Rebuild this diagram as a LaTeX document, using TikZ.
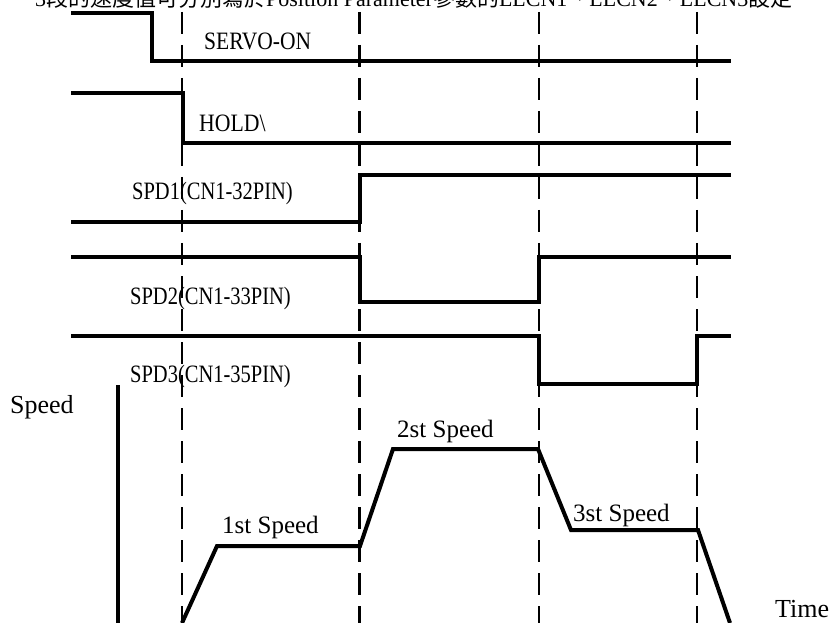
\documentclass[tikz,border=0pt]{standalone}
\usepackage{fontspec}
\setmainfont{Liberation Serif}
\newfontfamily\cjk{Noto Sans CJK TC}
\begin{document}
\begin{tikzpicture}[x=1pt,y=-1pt,
  sig/.style={line width=4pt, line join=miter, line cap=butt},
  guide/.style={line width=2pt, dash pattern=on 22pt off 11pt},
  axisline/.style={line width=4pt},
  lbl/.style={anchor=base west, inner sep=0pt, font=\fontsize{25}{25}\selectfont},
  spd/.style={anchor=base west, inner sep=0pt, font=\fontsize{25}{25}\selectfont},
  big/.style={anchor=base west, inner sep=0pt, font=\fontsize{26}{26}\selectfont},
  toptext/.style={anchor=base west, inner sep=0pt, font=\fontsize{22}{22}\selectfont},
  ]
\useasboundingbox (0,0) rectangle (831,623);

% clipped heading
\node[toptext] (head) at (35,6.5) {3{\cjk 段的速度值可分別寫於}Position Parameter{\cjk 參數的}LLCN1{\cjk 、}LLCN2{\cjk 、}LLCN3{\cjk 設定}};

% guides
\draw[guide] (182,12) -- (182,623);
\draw[guide, line width=3pt] (359,12) -- (359,623);
\draw[guide] (539,12) -- (539,623);
\draw[guide] (697,12) -- (697,623);

% SERVO-ON
\draw[sig] (71,13) -- (152,13) -- (152,61) -- (731,61);
\node[lbl] (servo) at (204,50) {\scalebox{0.86}[1]{SERVO-ON}};

% HOLD
\draw[sig] (71,93) -- (183,93) -- (183,143) -- (731,143);
\node[lbl] (hold) at (199,132) {\scalebox{0.87}[1]{HOLD\textbackslash}};

% SPD1
\draw[sig] (71,222) -- (360,222) -- (360,175) -- (731,175);
\node[lbl] (spd1) at (132,200) {\scalebox{0.82}[1]{SPD1(CN1-32PIN)}};

% SPD2
\draw[sig] (71,257) -- (360,257) -- (360,302) -- (539,302) -- (539,257) -- (731,257);
\node[lbl] (spd2) at (130,305) {\scalebox{0.82}[1]{SPD2(CN1-33PIN)}};

% SPD3
\draw[sig] (71,336) -- (539,336) -- (539,384) -- (697,384) -- (697,336) -- (731,336);
\node[lbl] (spd3) at (130,382) {\scalebox{0.82}[1]{SPD3(CN1-35PIN)}};

% speed axis
\draw[axisline] (118,385) -- (118,623);
\node[big] (speedlbl) at (10,413) {Speed};
\node[big] (timelbl) at (775,617) {Time};

% speed profile
\draw[sig] (182,623) -- (217,546) -- (360,546) -- (393,449) -- (538,449) -- (571,530) -- (698,530) -- (730,623);
\node[spd] (s1) at (222,533) {1st Speed};
\node[spd] (s2) at (397,437) {2st Speed};
\node[spd] (s3) at (573,521) {3st Speed};
\end{tikzpicture}
\end{document}
